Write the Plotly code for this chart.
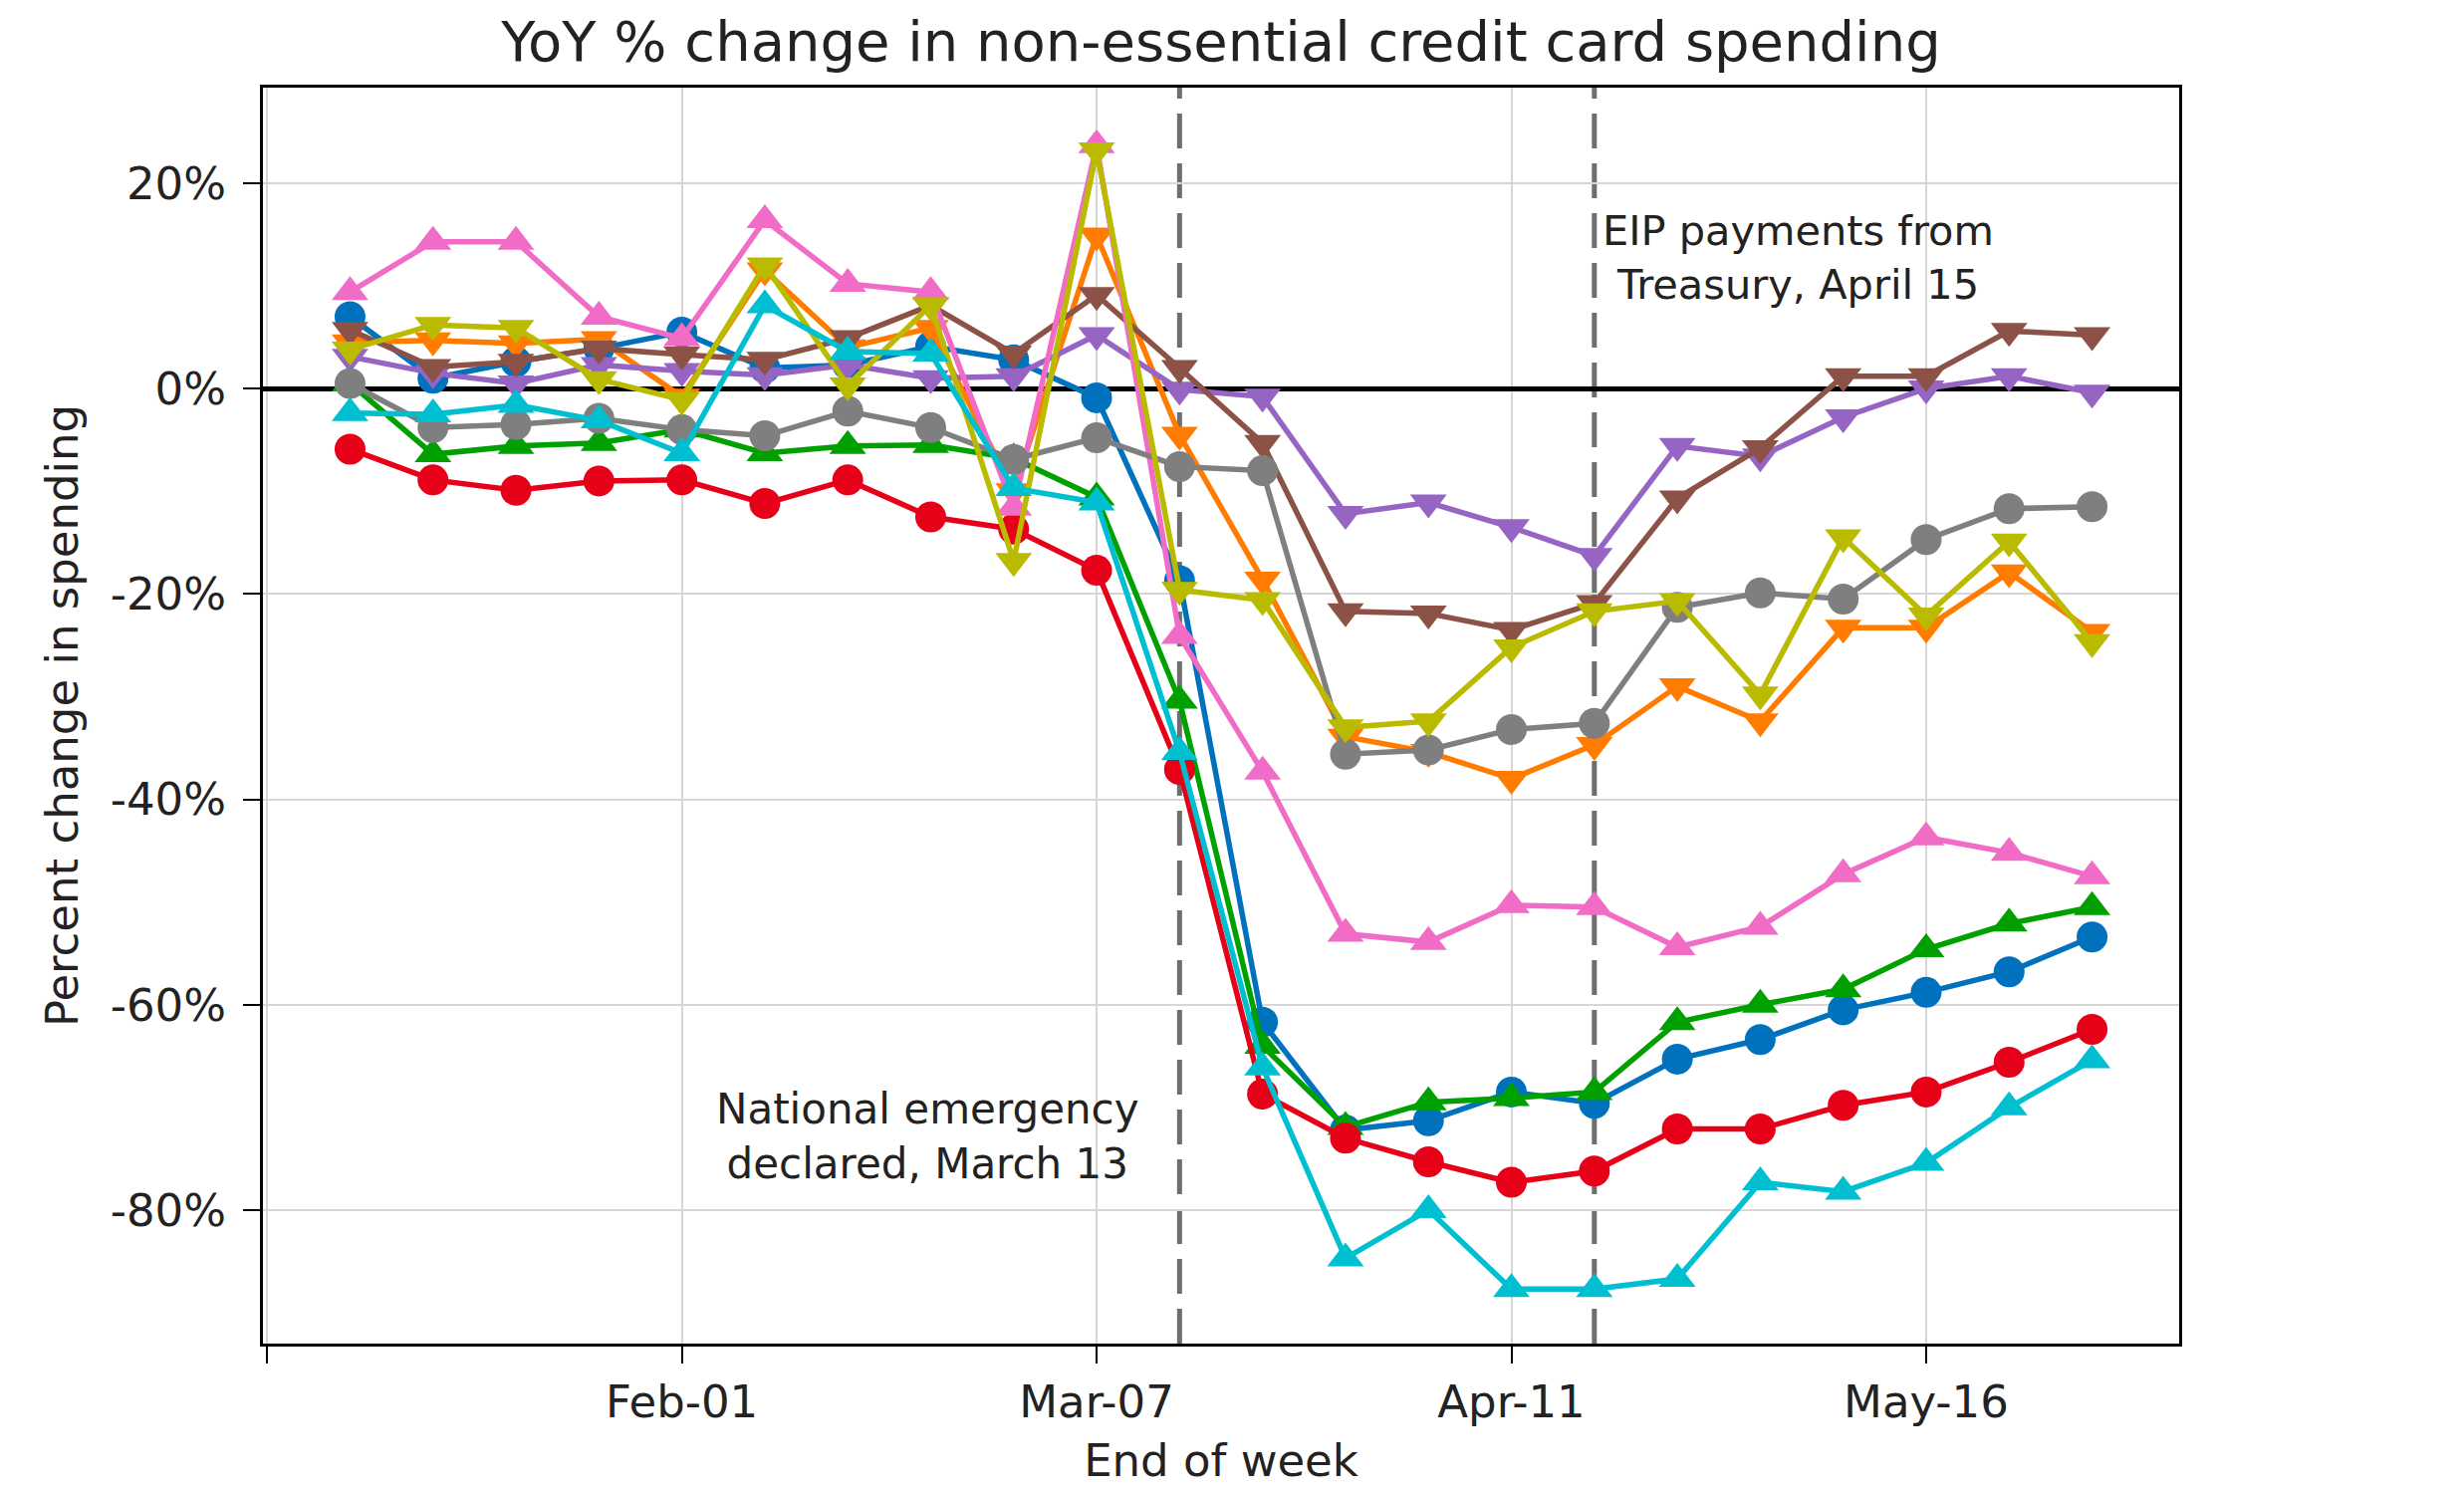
import pandas as pd
import plotly.graph_objects as go

# ---- data ----
weeks = pd.date_range("2020-01-04", "2020-05-30", freq="7D")

blue = [7.0, 1.0, 2.6, 3.9, 5.5, 2.0, 2.3, 4.1, 2.8, -0.9, -18.7, -61.7, -72.2, -71.3, -68.5, -69.6, -65.3, -63.4, -60.5, -58.8, -56.8, -53.4]
orange = [4.5, 4.7, 4.4, 4.8, -0.8, 11.5, 4.0, 5.9, -10.0, 14.9, -4.5, -18.6, -33.9, -35.4, -38.0, -34.7, -29.0, -32.4, -23.3, -23.3, -17.9, -23.7]
green = [0.5, -6.4, -5.6, -5.3, -4.0, -6.3, -5.6, -5.5, -6.8, -10.6, -30.4, -64.0, -71.9, -69.5, -69.1, -68.5, -61.7, -60.0, -58.5, -54.6, -52.1, -50.5]
red = [-5.9, -8.9, -9.9, -9.0, -8.9, -11.2, -8.9, -12.5, -13.7, -17.7, -37.1, -68.7, -73.0, -75.3, -77.3, -76.2, -72.1, -72.1, -69.8, -68.5, -65.6, -62.4]
purple = [3.1, 1.5, 0.5, 2.3, 1.7, 1.3, 2.3, 1.0, 1.2, 5.2, -0.1, -0.8, -12.2, -11.1, -13.5, -16.3, -5.6, -6.6, -2.8, 0.0, 1.2, -0.4]
brown = [5.7, 2.1, 2.6, 3.9, 3.3, 2.8, 4.9, 8.1, 3.4, 9.1, 2.0, -5.3, -21.7, -21.9, -23.5, -20.9, -10.7, -5.8, 1.2, 1.2, 5.6, 5.2]
pink = [9.4, 14.3, 14.3, 7.0, 4.9, 16.4, 10.2, 9.4, -11.6, 23.7, -24.1, -37.3, -53.1, -53.9, -50.3, -50.5, -54.4, -52.4, -47.3, -43.7, -45.2, -47.5]
gray = [0.5, -3.8, -3.5, -2.9, -4.0, -4.6, -2.2, -3.8, -6.9, -4.8, -7.6, -8.0, -35.6, -35.2, -33.2, -32.6, -21.3, -19.9, -20.5, -14.7, -11.7, -11.5]
olive = [3.8, 6.2, 5.9, 0.9, -1.1, 12.0, 0.3, 8.1, -16.8, 23.2, -19.6, -20.6, -33.0, -32.4, -25.2, -21.7, -20.7, -29.8, -14.5, -22.1, -14.9, -24.7]
cyan = [-2.4, -2.5, -1.6, -3.1, -6.3, 8.1, 3.6, 3.4, -9.7, -11.1, -35.4, -66.1, -84.7, -80.0, -87.7, -87.7, -86.7, -77.3, -78.2, -75.4, -70.0, -65.4]

x_tick_dates = ["2019-12-28", "2020-02-01", "2020-03-07", "2020-04-11", "2020-05-16"]
x_tick_labels = ["", "Feb-01", "Mar-07", "Apr-11", "May-16"]
y_tick_vals = [-80, -60, -40, -20, 0, 20]
y_tick_labels = ["-80%", "-60%", "-40%", "-20%", "0%", "20%"]

event_dates = ["2020-03-14", "2020-04-18"]

# ---- styling ----
series = [
    ("Series 1", blue, "#0072BD", "circle"),
    ("Series 2", orange, "#FF7C00", "triangle-down"),
    ("Series 3", green, "#00A000", "triangle-up"),
    ("Series 4", red, "#E60018", "circle"),
    ("Series 5", purple, "#9665C4", "triangle-down"),
    ("Series 6", brown, "#8C5247", "triangle-down"),
    ("Series 7", pink, "#F06CC6", "triangle-up"),
    ("Series 8", gray, "#7F7F7F", "circle"),
    ("Series 9", olive, "#BABB00", "triangle-down"),
    ("Series 10", cyan, "#00BFD0", "triangle-up"),
]

FONT = "DejaVu Sans"
OFF = 8  # page body margin offset in the browser

fig = go.Figure()
for name, vals, col, sym in series:
    fig.add_trace(go.Scatter(
        x=weeks, y=vals, name=name, mode="lines+markers",
        line=dict(color=col, width=5.5),
        marker=dict(symbol=sym, size=31 if sym == "circle" else 32, color=col, line=dict(width=0)),
        showlegend=False,
    ))

for d in event_dates:
    fig.add_shape(type="line", xref="x", yref="paper", x0=d, x1=d, y0=0, y1=1,
                  line=dict(color="#6E6E6E", width=5, dash="35px,15px"), layer="between")

fig.add_annotation(x="2020-03-10 18:00", y=-72.8, xref="x", yref="y",
                   text="National emergency<br>declared, March 13", showarrow=False,
                   xanchor="right", yanchor="middle", align="center",
                   font=dict(family=FONT, size=42, color="#222222"))
fig.add_annotation(x="2020-04-18 12:00", y=12.8, xref="x", yref="y",
                   text="EIP payments from<br>Treasury, April 15", showarrow=False,
                   xanchor="left", yanchor="middle", align="center",
                   font=dict(family=FONT, size=41.5, color="#222222"))

fig.update_layout(
    width=2474, height=1495,
    margin=dict(l=264 - OFF, r=286 + OFF, t=88 - OFF, b=146 + OFF),
    paper_bgcolor="white", plot_bgcolor="white",
    font=dict(family=FONT, size=45, color="#222222"),
    title=dict(text="YoY % change in non-essential credit card spending",
               x=0.5, xref="paper", y=1 - (41 - OFF) / 1495, yref="container", yanchor="middle",
               font=dict(family=FONT, size=56, color="#222222")),
)
fig.update_xaxes(
    range=["2019-12-27 15:36", "2020-06-06 08:24"],
    tickmode="array", tickvals=x_tick_dates, ticktext=x_tick_labels,
    showgrid=True, gridcolor="#D6D6D6", gridwidth=2,
    showline=True, linecolor="black", linewidth=3, mirror=True,
    ticks="outside", ticklen=17, tickwidth=2, tickcolor="black",
    zeroline=False,
    title=dict(text="End of week", standoff=18, font=dict(family=FONT, size=45)),
)
fig.update_yaxes(
    range=[-93.0, 29.3],
    tickmode="array", tickvals=y_tick_vals, ticktext=y_tick_labels,
    showgrid=True, gridcolor="#D6D6D6", gridwidth=2,
    showline=True, linecolor="black", linewidth=3, mirror=True,
    ticks="outside", ticklen=17, tickwidth=2, tickcolor="black",
    ticklabelstandoff=8,
    zeroline=True, zerolinecolor="black", zerolinewidth=5,
    title=dict(text="Percent change in spending", standoff=18, font=dict(family=FONT, size=45)),
)

fig.write_html("out.html")
